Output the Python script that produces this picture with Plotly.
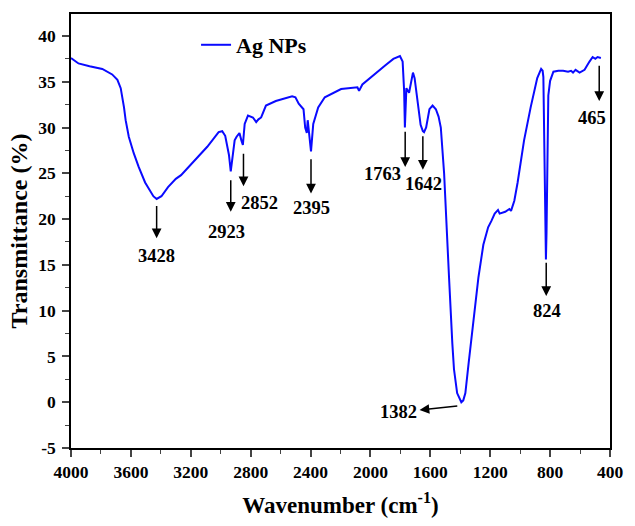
import plotly.graph_objects as go

# Spectrum (wavenumber cm-1, transmittance %)
wavenumber = [4000, 3950, 3876, 3791, 3725, 3690, 3668, 3657, 3646, 3635, 3614, 3581, 3548, 3505,
              3470, 3450, 3428, 3396, 3352, 3300, 3265, 3177, 3090, 3014, 2990, 2970, 2959, 2945,
              2933, 2920, 2907, 2894, 2875, 2862, 2852, 2840, 2818, 2785, 2763, 2748, 2730, 2698,
              2632, 2523, 2501, 2479, 2447, 2436, 2425, 2419, 2410, 2397, 2382, 2349, 2305, 2196,
              2087, 2076, 2054, 1956, 1900, 1847, 1803, 1785, 1775, 1770, 1760, 1742, 1727, 1716,
              1705, 1683, 1665, 1650, 1642, 1628, 1606, 1585, 1563, 1545, 1530, 1508, 1497, 1486,
              1475, 1453, 1442, 1421, 1405, 1393, 1380, 1366, 1344, 1312, 1279, 1246, 1214, 1192,
              1170, 1148, 1137, 1100, 1072, 1061, 1039, 1017, 974, 930, 886, 860, 850, 845,
              838, 833, 828, 824, 819, 812, 800, 778, 745, 713, 680, 660, 647, 630,
              603, 585, 570, 537, 516, 498, 483, 461]
transmittance = [37.6, 37.0, 36.7, 36.4, 35.8, 35.2, 34.3, 33.3, 32.2, 30.8, 29.0, 27.2, 25.7, 24.0,
                 23.0, 22.5, 22.2, 22.5, 23.5, 24.4, 24.8, 26.3, 27.9, 29.5, 29.6, 29.1, 28.3, 27.0,
                 25.2, 27.0, 28.6, 29.0, 29.4, 28.6, 28.1, 30.4, 31.3, 31.1, 30.6, 30.9, 31.1, 32.4,
                 32.9, 33.4, 33.3, 32.6, 32.0, 30.0, 29.4, 30.8, 29.5, 27.4, 30.4, 32.2, 33.3, 34.2,
                 34.4, 34.0, 34.7, 36.1, 36.8, 37.5, 37.8, 37.2, 34.0, 30.0, 34.3, 33.8, 35.2, 36.0,
                 35.4, 32.2, 30.3, 29.6, 29.5, 30.0, 32.0, 32.4, 32.0, 31.2, 30.0, 25.0, 20.7, 17.9,
                 13.6, 6.4, 3.6, 1.0, 0.3, 0.0, 0.2, 1.0, 4.3, 8.9, 13.6, 17.2, 19.1, 19.8,
                 20.6, 21.0, 20.6, 20.8, 21.1, 20.9, 22.0, 24.0, 28.6, 32.2, 35.4, 36.4, 36.2, 35.5,
                 29.0, 21.0, 15.6, 18.5, 27.0, 33.5, 35.1, 36.1, 36.2, 36.2, 36.1, 36.2, 36.0, 36.3,
                 36.0, 36.2, 36.3, 37.2, 37.7, 37.5, 37.7, 37.6]

# Axis ticks
x_ticks = [4000, 3600, 3200, 2800, 2400, 2000, 1600, 1200, 800, 400]
y_ticks = [-5, 0, 5, 10, 15, 20, 25, 30, 35, 40]

# Peak labels
peak_labels = ["3428", "2923", "2852", "2395", "1763", "1642", "1382", "824", "465"]
# arrow (tail, head) and label position, data units
arrow_tail_x = [3428, 2933, 2848, 2397, 1768, 1650, 1410, 826, 472]
arrow_tail_y = [21.6, 24.4, 27.3, 26.7, 29.7, 29.2, -0.4, 15.4, 36.9]
arrow_head_x = [3428, 2933, 2848, 2397, 1768, 1650, 1672, 826, 472]
arrow_head_y = [17.9, 20.8, 23.6, 22.8, 25.7, 25.4, -0.85, 11.6, 32.9]
label_x = [3428, 2959, 2743, 2395, 1919, 1644, 1815, 820, 518]
label_y = [16.0, 18.6, 21.8, 21.2, 24.9, 23.8, -1.1, 10.0, 31.0]

FONT = "Liberation Serif, Times New Roman, serif"

fig = go.Figure()
fig.add_trace(go.Scatter(x=wavenumber, y=transmittance, mode="lines", name="Ag NPs",
                         line=dict(color="#0a0aff", width=2)))

annotations = []
for lab, tx, ty, hx, hy, lx, ly in zip(peak_labels, arrow_tail_x, arrow_tail_y, arrow_head_x,
                                        arrow_head_y, label_x, label_y):
    annotations.append(dict(x=hx, y=hy, ax=tx, ay=ty, xref="x", yref="y", axref="x", ayref="y",
                            text="", showarrow=True, arrowhead=2, arrowsize=1.3,
                            arrowwidth=1.5, arrowcolor="black"))
    annotations.append(dict(x=lx, y=ly, xref="x", yref="y", text=lab, showarrow=False,
                            font=dict(family=FONT, size=18.5, color="black", weight="bold")))

tickfont = dict(family=FONT, size=17.5, color="black", weight="bold")

fig.update_layout(
    width=635, height=526,
    margin=dict(l=71, r=14, t=12, b=73),
    paper_bgcolor="white", plot_bgcolor="white",
    font=dict(family=FONT, color="black"),
    annotations=annotations,
    showlegend=True,
    legend=dict(x=0.232, y=0.977, xanchor="left", yanchor="top", bgcolor="rgba(0,0,0,0)",
                font=dict(family=FONT, size=22, color="black", weight="bold")),
    xaxis=dict(range=[4000, 400], tickvals=x_ticks, ticktext=[str(v) for v in x_ticks],
               ticks="outside", ticklen=7, tickwidth=1.5, showline=True, linecolor="black", linewidth=1.5,
               mirror=True, showgrid=False, zeroline=False, tickfont=tickfont,
               minor=dict(ticks="outside", ticklen=4, tickwidth=1.2, dtick=200, tick0=0),
               title=dict(text="<b>Wavenumber (cm<sup>-1</sup>)</b>", font=dict(family=FONT, size=23), standoff=16)),
    yaxis=dict(range=[-5, 42.4], tickvals=y_ticks, ticktext=[str(v) for v in y_ticks],
               ticks="outside", ticklen=7, tickwidth=1.5, showline=True, linecolor="black", linewidth=1.5,
               mirror=True, showgrid=False, zeroline=False, ticklabelstandoff=3, tickfont=tickfont,
               minor=dict(ticks="outside", ticklen=4, tickwidth=1.2, dtick=2.5, tick0=0),
               title=dict(text="<b>Transmittance (%)</b>", font=dict(family=FONT, size=24), standoff=4)),
)

fig.write_html("out.html")
